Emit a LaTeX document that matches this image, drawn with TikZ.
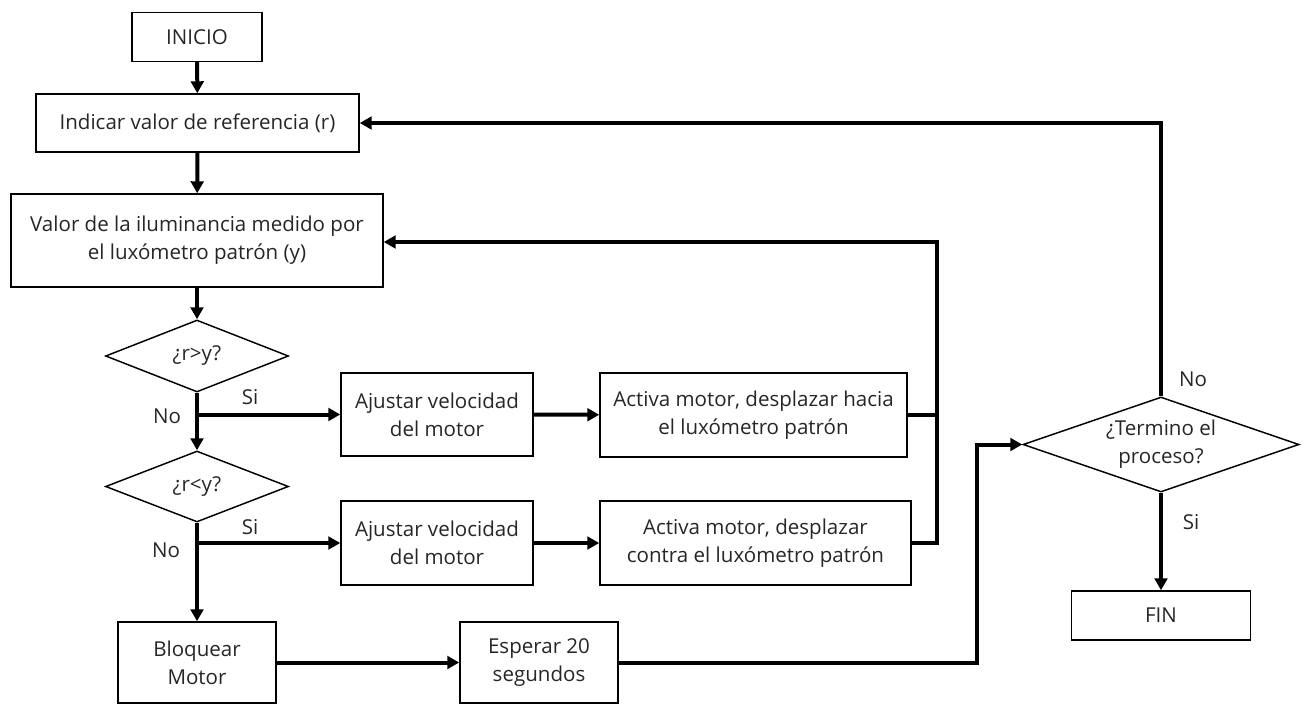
\documentclass[tikz,border=0pt]{standalone}
\usepackage{fontspec}
\setmainfont{Open Sans}
\usetikzlibrary{shapes.geometric,arrows.meta}
\begin{document}
\begin{tikzpicture}[x=0.75pt,y=-0.75pt,
  every node/.style={font=\fontsize{15.4}{21}\selectfont, text=black!85},
  box/.style={draw, line width=1.1pt, align=center, inner sep=0pt},
  dec/.style={draw, diamond, line width=1.1pt, align=center, inner sep=0pt},
  lbl/.style={inner sep=1pt},
  arr/.style={line width=3pt, -{Triangle[length=9pt,width=9.5pt]}},
  ln/.style={line width=3pt},
]
\useasboundingbox (0,0) rectangle (1303,704);
\node[box, minimum width=97.5pt, minimum height=36.75pt] (inicio) at (197,37) {INICIO};
\node[box, minimum width=242.25pt, minimum height=43.5pt] (indicar) at (197.5,123) {Indicar valor de referencia (r)};
\node[box, minimum width=279pt, minimum height=69.75pt] (valor) at (197,240.5) {Valor de la iluminancia medido por\\el luxómetro patrón (y)};
\node[dec, aspect=2.5, minimum width=137.25pt, minimum height=54pt] (d1) at (197,356) {¿r>y?};
\node[box, minimum width=144pt, minimum height=62.5pt] (aj1) at (437,414.5) {Ajustar velocidad\\del motor};
\node[box, minimum width=230.25pt, minimum height=63pt] (act1) at (753.5,415) {Activa motor, desplazar hacia\\el luxómetro patrón};
\node[dec, aspect=2.5, minimum width=137.25pt, minimum height=53.25pt] (d2) at (197,486.5) {¿r<y?};
\node[box, minimum width=144pt, minimum height=63pt] (aj2) at (437,543) {Ajustar velocidad\\del motor};
\node[box, minimum width=233.25pt, minimum height=63pt] (act2) at (755.5,543) {Activa motor, desplazar\\contra el luxómetro patrón};
\node[box, minimum width=118.5pt, minimum height=60.75pt] (bloq) at (197,662.5) {Bloquear\\Motor};
\node[box, minimum width=118.5pt, minimum height=60.75pt] (esp) at (539,662.5) {Esperar 20\\segundos};
\node[dec, aspect=2.9, minimum width=207pt, minimum height=71.25pt] (term) at (1161,444.5) {¿Termino el\\proceso?};
\node[box, minimum width=134.25pt, minimum height=36.75pt] (fin) at (1161,615.5) {FIN};

\coordinate (c1) at (937,242);
\coordinate (c2) at (977,560);

\draw[arr] (inicio) -- (indicar);
\draw[arr] (indicar) -- (valor);
\draw[arr] (valor) -- (d1);
\draw[arr] (d1) -- (d2);
\draw[arr] (d1.south |- aj1.west) -- (aj1.west);
\draw[arr] (aj1) -- (act1);
\draw[arr] (d2) -- (bloq);
\draw[arr] (d2.south |- aj2.west) -- (aj2.west);
\draw[arr] (aj2) -- (act2);
\draw[ln] (act1.east) -- (act1.east -| c1);
\draw[arr] (act2.east) -| (c1) -- (c1 -| valor.east);
\draw[arr] (bloq) -- (esp);
\draw[arr] (esp.east) -| (c2) |- (term.west);
\draw[arr] (term.north) |- (indicar.east);
\draw[arr] (term) -- (fin);

\node[lbl] (si1) at (250,397) {Si};
\node[lbl] (no1) at (167,416) {No};
\node[lbl] (si2) at (250,527) {Si};
\node[lbl] (no2) at (166,550) {No};
\node[lbl] (no3) at (1193,379) {No};
\node[lbl] (si3) at (1191,522) {Si};
\end{tikzpicture}
\end{document}
